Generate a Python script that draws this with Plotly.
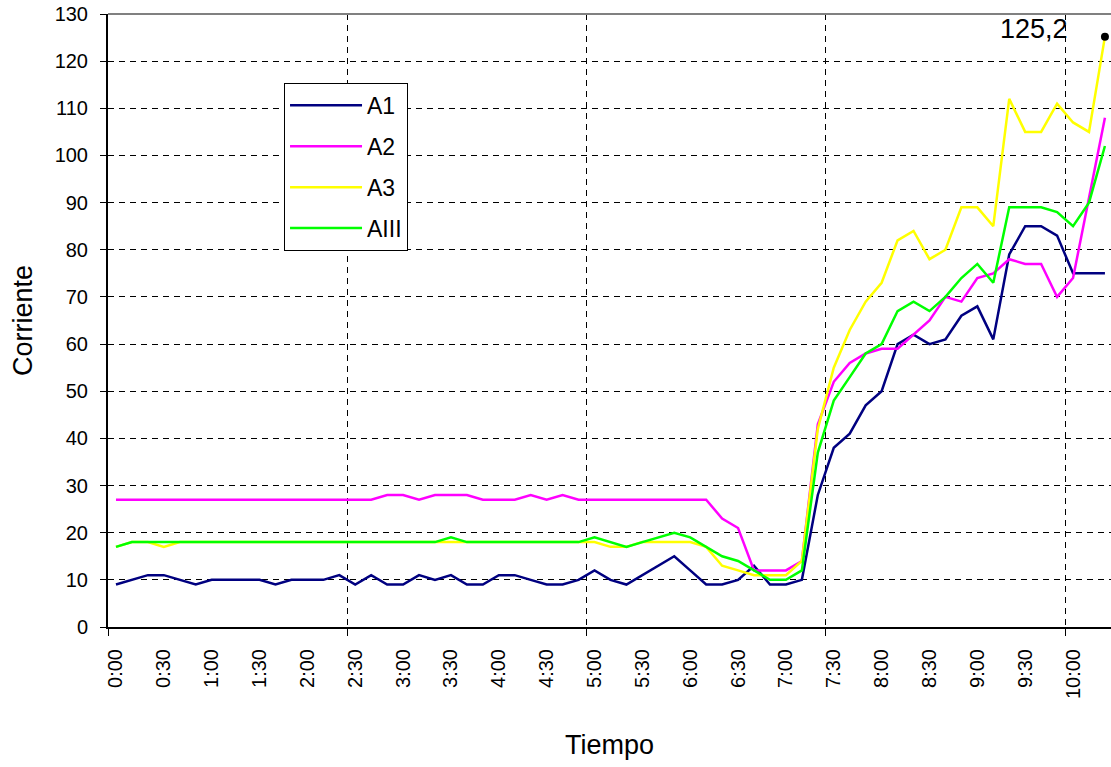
import plotly.graph_objects as go

# ---- data ----
times = ["0:00", "0:10", "0:20", "0:30", "0:40", "0:50", "1:00", "1:10", "1:20", "1:30",
         "1:40", "1:50", "2:00", "2:10", "2:20", "2:30", "2:40", "2:50", "3:00", "3:10",
         "3:20", "3:30", "3:40", "3:50", "4:00", "4:10", "4:20", "4:30", "4:40", "4:50",
         "5:00", "5:10", "5:20", "5:30", "5:40", "5:50", "6:00", "6:10", "6:20", "6:30",
         "6:40", "6:50", "7:00", "7:10", "7:20", "7:30", "7:40", "7:50", "8:00", "8:10",
         "8:20", "8:30", "8:40", "8:50", "9:00", "9:10", "9:20", "9:30", "9:40", "9:50",
         "10:00", "10:10", "10:20"]

a1 = [9, 10, 11, 11, 10, 9, 10, 10, 10, 10,
      9, 10, 10, 10, 11, 9, 11, 9, 9, 11,
      10, 11, 9, 9, 11, 11, 10, 9, 9, 10,
      12, 10, 9, 11, 13, 15, 12, 9, 9, 10,
      13, 9, 9, 10, 28, 38, 41, 47, 50, 60,
      62, 60, 61, 66, 68, 61, 79, 85, 85, 83,
      75, 75, 75]

a2 = [27, 27, 27, 27, 27, 27, 27, 27, 27, 27,
      27, 27, 27, 27, 27, 27, 27, 28, 28, 27,
      28, 28, 28, 27, 27, 27, 28, 27, 28, 27,
      27, 27, 27, 27, 27, 27, 27, 27, 23, 21,
      12, 12, 12, 14, 43, 52, 56, 58, 59, 59,
      62, 65, 70, 69, 74, 75, 78, 77, 77, 70,
      74, 91, 108]

a3 = [17, 18, 18, 17, 18, 18, 18, 18, 18, 18,
      18, 18, 18, 18, 18, 18, 18, 18, 18, 18,
      18, 18, 18, 18, 18, 18, 18, 18, 18, 18,
      18, 17, 17, 18, 18, 18, 18, 17, 13, 12,
      11, 11, 11, 14, 42, 55, 63, 69, 73, 82,
      84, 78, 80, 89, 89, 85, 112, 105, 105, 111,
      107, 105, 125.2]

aiii = [17, 18, 18, 18, 18, 18, 18, 18, 18, 18,
        18, 18, 18, 18, 18, 18, 18, 18, 18, 18,
        18, 19, 18, 18, 18, 18, 18, 18, 18, 18,
        19, 18, 17, 18, 19, 20, 19, 17, 15, 14,
        12, 10, 10, 12, 37, 48, 53, 58, 60, 67,
        69, 67, 70, 74, 77, 73, 89, 89, 89, 88,
        85, 90, 102]

series_names = ["A1", "A2", "A3", "AIII"]
series_colors = ["#000080", "#FF00FF", "#FFFF00", "#00FF00"]

tick_labels = ["0:00", "0:30", "1:00", "1:30", "2:00", "2:30", "3:00", "3:30", "4:00",
               "4:30", "5:00", "5:30", "6:00", "6:30", "7:00", "7:30", "8:00", "8:30",
               "9:00", "9:30", "10:00"]


def to_min(t):
    h, m = t.split(":")
    return int(h) * 60 + int(m)


x_min = [to_min(t) for t in times]
tick_min = [to_min(t) for t in tick_labels]
step = x_min[1] - x_min[0]
# category boundaries every 2.5 h (Excel-style tick marks between categories)
boundaries = [x_min[0] - step / 2 + k * 150 for k in range(5)]

FONT = "Liberation Sans, Arial, sans-serif"

fig = go.Figure()
for name, col, vals in zip(series_names, series_colors, [a1, a2, a3, aiii]):
    fig.add_trace(go.Scatter(
        x=x_min, y=vals, mode="lines", name=name, legendgroup=name,
        line=dict(color=col, width=2.5),
        hoverinfo="x+y+name",
    ))

# labelled peak point of A3
fig.add_trace(go.Scatter(
    x=[x_min[-1]], y=[a3[-1]], mode="markers", showlegend=False,
    marker=dict(color="black", size=8), cliponaxis=False,
))
fig.add_annotation(
    x=x_min[-1], y=a3[-1], text=str(a3[-1]).replace(".", ","),
    showarrow=False, xanchor="right", yanchor="middle",
    xshift=-35, yshift=8, font=dict(size=27, family=FONT, color="black"),
)

# top border of plot area
fig.add_shape(type="line", xref="paper", yref="paper", x0=0, x1=1, y0=1, y1=1,
              line=dict(color="#808080", width=2))

fig.update_layout(
    width=1111, height=767,
    margin=dict(l=108, r=0, t=14, b=140, autoexpand=False),
    paper_bgcolor="white", plot_bgcolor="white",
    font=dict(family=FONT, color="black"),
    showlegend=True,
    legend=dict(
        x=0.1755, y=0.8876, xanchor="left", yanchor="top",
        bgcolor="white", bordercolor="black", borderwidth=1,
        font=dict(size=23, family=FONT, color="black"),
        tracegroupgap=8, itemwidth=72,
    ),
    xaxis=dict(
        range=[x_min[0] - step / 2, x_min[0] - step / 2 + 628.8],
        automargin=False,
        tickmode="array", tickvals=tick_min, ticktext=tick_labels,
        tickangle=-90, ticks="", showgrid=False, zeroline=False,
        showline=True, linecolor="black", linewidth=2,
        tickfont=dict(size=20, family=FONT, color="black"),
        ticklabelstandoff=12, ticklabeloverflow="allow",
        minor=dict(tickmode="array", tickvals=boundaries, ticks="outside",
                   ticklen=7, tickcolor="black", tickwidth=1,
                   showgrid=True, gridcolor="black", griddash="6px,5px", gridwidth=1),
        title=dict(text="Tiempo", font=dict(size=27, family=FONT, color="black"),
                   standoff=37),
    ),
    yaxis=dict(
        range=[0, 130], tickmode="linear", tick0=0, dtick=10,
        automargin=False,
        ticks="outside", ticklen=6, tickcolor="black",
        showline=True, linecolor="black", linewidth=2,
        showgrid=True, gridcolor="black", griddash="6px,5px", gridwidth=1,
        zeroline=False,
        tickfont=dict(size=20, family=FONT, color="black"),
        ticklabelstandoff=8, ticklabeloverflow="allow",
        title=dict(text="Corriente", font=dict(size=27, family=FONT, color="black"),
                   standoff=14),
    ),
)

# remove the default page margin so the figure sits at the top-left corner
fig.write_html(
    "out.html",
    config={"displayModeBar": False},
    post_script="document.body.style.margin='0';document.body.style.overflow='hidden';",
)
